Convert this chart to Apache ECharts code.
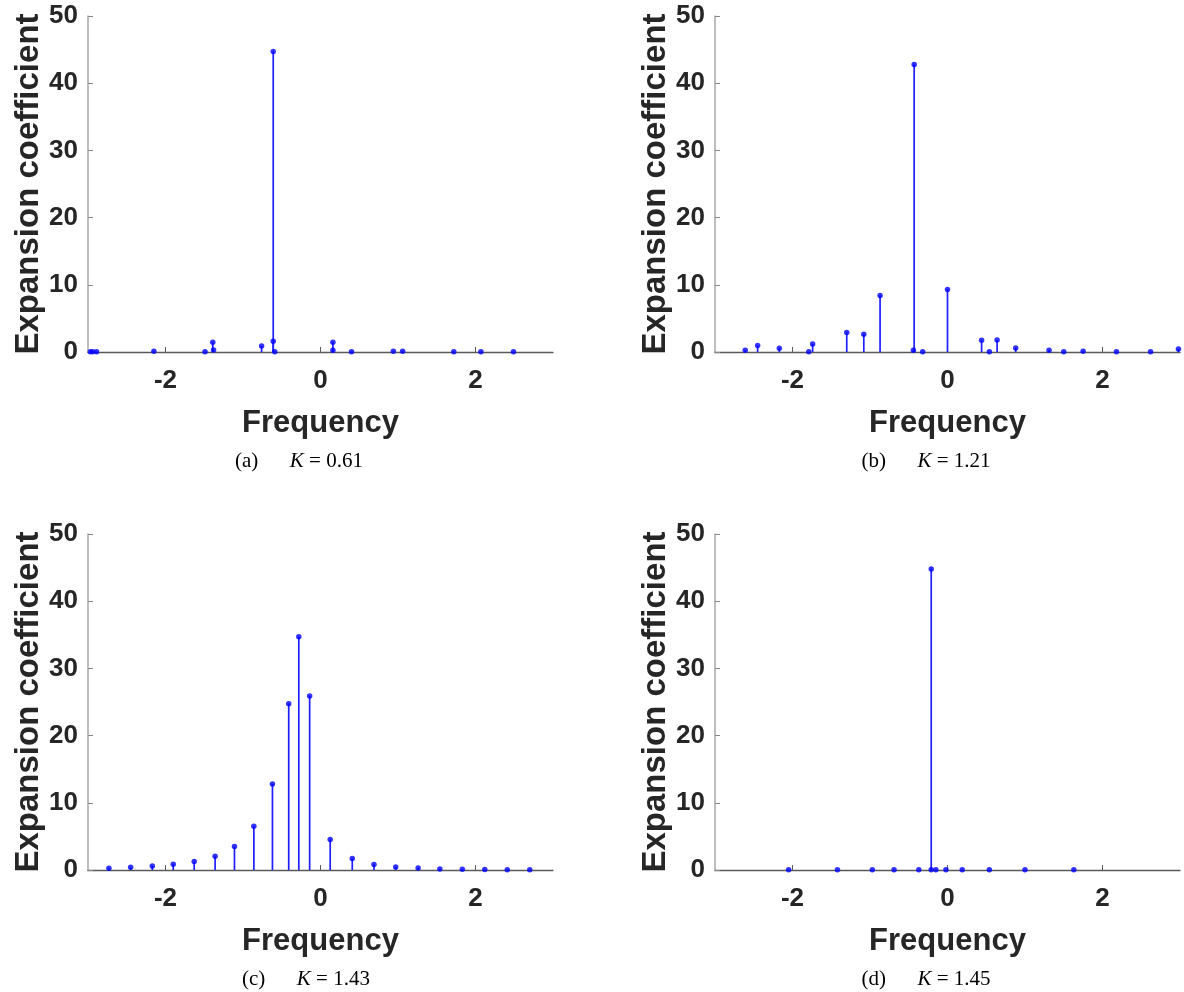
<!DOCTYPE html>
<html>
<head>
<meta charset="utf-8">
<script src="https://cdn.jsdelivr.net/npm/echarts@6/dist/echarts.min.js"></script>
<style>
html,body{margin:0;padding:0;background:#fff;}
#chart{width:1184px;height:992px;}
</style>
</head>
<body>
<div id="chart"></div>
<script>
// ---- data ----
var freqA = [-2.97, -2.94, -2.89, -2.15, -1.49, -1.39, -1.38, -0.76, -0.61, -0.61, -0.59, 0.16, 0.16, 0.40, 0.94, 1.06, 1.72, 2.07, 2.49];
var coefA = [0.05, 0.05, 0.05, 0.1, 0.05, 1.45, 0.3, 0.9, 44.7, 1.6, 0.05, 1.45, 0.25, 0.05, 0.1, 0.1, 0.05, 0.03, 0.03];

var freqB = [-2.61, -2.45, -2.17, -1.79, -1.74, -1.30, -1.08, -0.87, -0.44, -0.43, -0.32, 0.00, 0.44, 0.54, 0.64, 0.88, 1.31, 1.50, 1.75, 2.18, 2.62, 2.98];
var coefB = [0.25, 0.95, 0.55, 0.02, 1.2, 2.9, 2.65, 8.4, 0.25, 42.8, 0.02, 9.3, 1.75, 0.02, 1.8, 0.6, 0.25, 0.02, 0.1, 0.05, 0.02, 0.45];

var freqC = [-2.73, -2.45, -2.17, -1.90, -1.63, -1.36, -1.11, -0.86, -0.62, -0.41, -0.28, -0.14, 0.125, 0.41, 0.69, 0.97, 1.26, 1.54, 1.83, 2.12, 2.41, 2.70];
var coefC = [0.25, 0.4, 0.6, 0.85, 1.25, 2.05, 3.5, 6.5, 12.8, 24.75, 34.7, 25.9, 4.55, 1.7, 0.8, 0.45, 0.3, 0.15, 0.12, 0.08, 0.05, 0.03];

var freqD = [-2.05, -1.42, -0.97, -0.69, -0.37, -0.21, -0.21, -0.15, -0.02, 0.19, 0.54, 1.00, 1.63];
var coefD = [0.02, 0.02, 0.02, 0.02, 0.02, 44.8, 0.05, 0.02, 0.02, 0.02, 0.02, 0.02, 0.02];

var xTicks = [-2, 0, 2];
var yTicks = [0, 10, 20, 30, 40, 50];
var xName = 'Frequency';
var yName = 'Expansion coefficient';
var captionTags = ['(a)', '(b)', '(c)', '(d)'];
var captionK = ['0.61', '1.21', '1.43', '1.45'];

// ---- chart ----
var panels = [[freqA, coefA], [freqB, coefB], [freqC, coefC], [freqD, coefD]];
var grids = [
  {left: 88, top: 16, width: 465, height: 336},
  {left: 715, top: 16, width: 465, height: 336},
  {left: 88, top: 534, width: 465, height: 336},
  {left: 715, top: 534, width: 465, height: 336}
];
var labelFont = {fontFamily: 'Liberation Sans, Arial, sans-serif', fontWeight: 'bold', color: '#262626'};
var xAxes = [], yAxes = [], series = [];
grids.forEach(function (g, i) {
  xAxes.push({
    gridIndex: i, type: 'value', min: -3, max: 3,
    name: xName, nameLocation: 'middle', nameGap: 56,
    nameTextStyle: Object.assign({fontSize: 31}, labelFont),
    axisLine: {onZero: false, lineStyle: {color: '#5a5a5a', width: 1.3}},
    axisTick: {show: true, inside: true, length: 5, customValues: xTicks, lineStyle: {color: '#5a5a5a'}},
    axisLabel: Object.assign({fontSize: 26, margin: 16, customValues: xTicks}, labelFont),
    splitLine: {show: false}
  });
  yAxes.push({
    gridIndex: i, type: 'value', min: 0, max: 50, interval: 10,
    name: yName, nameLocation: 'middle', nameGap: 38,
    nameTextStyle: Object.assign({fontSize: 33}, labelFont),
    axisLine: {onZero: false, lineStyle: {color: '#a8a8a8', width: 1.5}},
    axisTick: {show: true, inside: true, length: 5, lineStyle: {color: '#8a8a8a'}},
    axisLabel: Object.assign({fontSize: 26, margin: 10}, labelFont),
    splitLine: {show: false}
  });
  var data = panels[i][0].map(function (f, k) { return [f, panels[i][1][k]]; });
  series.push({
    type: 'custom', xAxisIndex: i, yAxisIndex: i, data: data,
    encode: {x: 0, y: 1}, silent: true,
    renderItem: function (params, api) {
      var p0 = api.coord([api.value(0), 0]);
      var p1 = api.coord([api.value(0), api.value(1)]);
      return {type: 'line', shape: {x1: p0[0], y1: p0[1], x2: p1[0], y2: p1[1]},
              style: {stroke: '#1f1fff', lineWidth: 1.7}};
    },
    z: 2
  });
  series.push({
    type: 'scatter', xAxisIndex: i, yAxisIndex: i, data: data,
    symbol: 'circle', symbolSize: 5.5, itemStyle: {color: '#0000ff'}, z: 3
  });
});

var capPos = [[299, 461], [926, 461], [306, 979], [926, 979]];
var graphics = capPos.map(function (p, i) {
  return {
    type: 'text', x: p[0], y: p[1],
    style: {
      text: '{t|' + captionTags[i] + '}      {k|K} = ' + captionK[i],
      fill: '#000', fontFamily: 'Liberation Serif, Times New Roman, serif', fontSize: 21,
      align: 'center', verticalAlign: 'middle',
      rich: {
        t: {fontFamily: 'Liberation Serif, Times New Roman, serif', fontSize: 21, fill: '#000'},
        k: {fontFamily: 'Liberation Serif, Times New Roman, serif', fontSize: 21, fontStyle: 'italic', fill: '#000'}
      }
    }
  };
});

var chart = echarts.init(document.getElementById('chart'), null, {renderer: 'canvas'});
chart.setOption({
  animation: false,
  backgroundColor: '#fff',
  grid: grids,
  xAxis: xAxes,
  yAxis: yAxes,
  series: series,
  graphic: graphics
});
</script>
</body>
</html>
